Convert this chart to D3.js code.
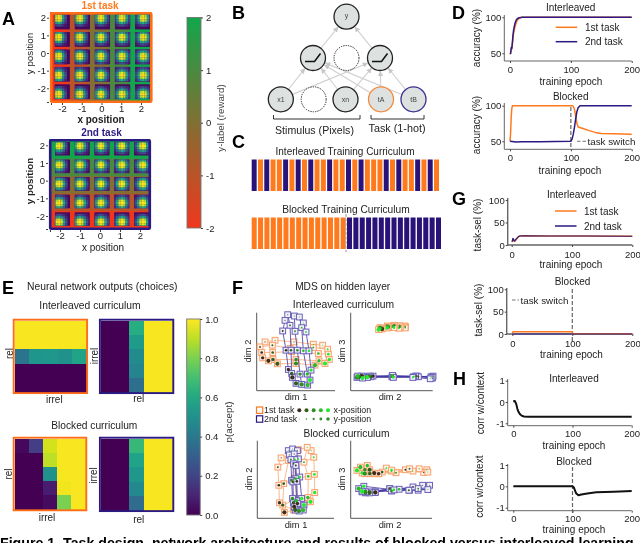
<!DOCTYPE html>
<html><head><meta charset="utf-8">
<style>
html,body{margin:0;padding:0;background:#fff;overflow:hidden}
svg{display:block;filter:blur(0.35px)}
text{font-family:"Liberation Sans",Arial,sans-serif;fill:#222}
</style>
<script src="https://cdn.jsdelivr.net/npm/d3@7"></script>
</head><body><svg id="c" width="640" height="543"></svg>
<script>
/* ---------- data ---------- */
const ORANGE="#ff7a1f", FRAME_OR="#ff6d17", PURPLE="#2a1a82";
const gridPos=[-2,-1,0,1,2];
const blobKernel=[
[.06,.12,.20,.26,.20,.12,.06],
[.12,.30,.52,.62,.52,.30,.12],
[.20,.52,.86,.97,.86,.52,.20],
[.26,.62,.97,1.0,.97,.62,.26],
[.20,.52,.86,.97,.86,.52,.20],
[.12,.30,.52,.62,.52,.30,.12],
[.06,.12,.20,.26,.20,.12,.06]];
const rewardTicks=[-2,-1,0,1,2];

const netNodes=[
 {id:"y",x:0,y:3,label:"y",kind:"out"},
 {id:"h1",x:-1,y:2,kind:"relu"},{id:"h2",x:0,y:2,kind:"dot"},{id:"h3",x:1,y:2,kind:"relu"},
 {id:"x1",x:-1.96,y:1,label:"x1",kind:"in"},{id:"xd",x:-0.98,y:1,kind:"dot"},{id:"xn",x:-0.03,y:1,label:"xn",kind:"in"},
 {id:"tA",x:1.03,y:1,label:"tA",kind:"tA"},{id:"tB",x:2,y:1,label:"tB",kind:"tB"}];
const netEdges=[["h1","y"],["h3","y"],["x1","h1"],["x1","h3"],["xn","h1"],["xn","h3"],["tA","h1"],["tA","h3"],["tB","h1"],["tB","h3"]];

const interleavedCurriculum=[2,1,2,1,1,2,1,2,1,2,1,1,2,1,1,2,1,2,1,1,1,2,1,2,1,1,2,1,2,1];
const blockedCurriculum=[1,1,1,1,1,1,1,1,1,1,1,1,1,1,1,2,2,2,2,2,2,2,2,2,2,2,2,2,2,2];

const epIntAcc=[0,1,2,3,4,5,6,8,10,12,15,20,30,200];
const intAcc1=[49,50,55,56,63,72,78,86,92,96,98.5,100,100,100];
const intAcc2=[49,50,58,57,66,76,83,91,96,98,99.5,100,100,100];
const epBlk1=[0,1,2,3,4,6,100,102,104,106,108,110,112,120,130,140,150,170,200];
const blkAcc1=[50,62,85,96,100,100,100,100,99,95,85,75,70,68,65,62.5,61,60.5,60];
const epBlk2=[0,10,20,50,100,102,104,106,108,110,112,115,120,200];
const blkAcc2=[50,49,49.5,49.5,50,53,60,70,82,92,97,100,100,100];
const epSel=[0,1,2,3,4,5,7,10,13,20,60,120,200];
const intSel1=[8,8,9,13,10,8,11,16,20,20.5,20,20,19.5];
const intSel2=[8,9,15,12,9,9,13,17,20,20.5,20,20,19.5];
const epBlkSel1=[0,1,100,101,200];
const blkSel1=[0,5,5,0.5,0.5];
const epBlkSel2=[0,200];
const blkSel2=[0,0];
const epCorrI=[0,2,3,5,7,9,11,14,18,25,200];
const corrI=[0.02,0.05,0.03,-0.1,-0.33,-0.47,-0.56,-0.64,-0.68,-0.69,-0.69];
const epCorrB=[0,100,102,104,106,110,115,125,140,170,200];
const corrB=[0,0,-0.04,-0.18,-0.32,-0.42,-0.38,-0.33,-0.28,-0.25,-0.22];

const choiceIntFirst=[[.99,.99,.99,.99,.99],[.99,.99,.99,.99,.99],[.38,.52,.53,.50,.58],[0,0,0,0,0],[0,0,0,0,0]];
const choiceIntSecond=[[0,0,.62,.99,.99],[0,0,.55,.99,.99],[0,0,.48,.99,.99],[0,0,.45,.99,.99],[0,0,.36,.99,.99]];
const choiceBlkFirst=[[.02,.18,.93,.99,.99],[0,0,.90,.99,.99],[0,0,.50,.99,.99],[0,0,.08,.98,.99],[0,0,.03,.80,.99]];
const choiceBlkSecond=[[0,0,.67,.99,.99],[0,0,.58,.99,.99],[0,0,.53,.99,.99],[0,0,.47,.99,.99],[0,0,.35,.99,.99]];
const acceptTicks=[0,.2,.4,.6,.8,1];

/* MDS coordinates: five rows (y-position) of five points (x-position), arbitrary units */
const mdsI12First=[[25,147],[55,152],[112,147],[170,140],[198,137],[10,132],[47,137],[100,127],[170,130],[213,125],[15,115],[48,115],[105,118],[185,112],[215,110],[18,99],[49,94],[118,94],[187,90],[218,94],[35,90],[62,81],[118,82],[175,77],[205,82]];
const mdsI12Second=[[85,212],[93,229],[113,225],[128,222],[140,204],[78,180],[100,197],[115,179],[135,190],[148,177],[88,122],[103,122],[122,122],[140,120],[157,120],[95,64],[105,52],[130,50],[152,50],[163,62],[107,40],[118,22],[135,19],[153,17],[160,32]];
const mdsI23First=[[156,190],[157,193],[155,195],[154,192],[156,189],[139,191],[141,194],[140,196],[142,192],[138,188],[123,193],[122,195],[125,197],[121,193],[124,190],[106,190],[108,193],[105,195],[107,192],[104,189],[90,186],[86,188],[84,190],[82,186],[80,184]];
const mdsI23Second=[[234,38],[236,44],[230,42],[233,40],[228,36],[190,44],[194,42],[186,44],[180,42],[178,40],[120,44],[122,42],[118,42],[120,46],[122,40],[64,44],[58,42],[52,44],[44,42],[48,40],[32,44],[24,42],[18,40],[20,44],[34,38]];
const mdsB12First=[[165,205],[153,215],[126,208],[101,192],[73,183],[173,185],[143,170],[111,208],[96,175],[63,155],[175,133],[156,127],[113,120],[81,105],[66,100],[176,78],[155,63],[123,60],[78,40],[68,47],[163,50],[143,45],[128,28],[111,25],[83,18]];
const mdsB12Second=[[95,205],[108,210],[123,205],[98,192],[113,195],[126,180],[115,178],[103,178],[111,165],[118,160],[130,125],[118,120],[105,115],[109,110],[121,112],[136,60],[120,53],[108,60],[111,47],[123,45],[143,40],[141,25],[128,22],[116,25],[113,35]];
const mdsB23First=[[211,139],[198,150],[220,147],[223,140],[180,143],[158,147],[170,150],[131,138],[118,143],[103,152],[81,135],[91,140],[68,135],[55,137],[118,146],[81,135],[55,135],[41,147],[48,160],[33,137],[68,137],[55,147],[41,135],[28,155],[18,145]];
const mdsB23Second=[[208,100],[195,85],[228,100],[223,87],[170,85],[180,95],[168,85],[195,90],[113,90],[118,83],[71,80],[113,90],[118,83],[140,88],[125,86],[43,77],[55,80],[71,80],[33,80],[38,97],[71,78],[55,77],[43,80],[23,90],[33,82]];
const legendSteps=[0,1,2,3,4];

/* ---------- helpers ---------- */
const svg=d3.select("#c");
function T(x,y,s,o={}){
  const t=svg.append("text").attr("x",x).attr("y",y).text(s)
   .attr("font-size",o.size||10).attr("text-anchor",o.anchor||"middle")
   .attr("dominant-baseline","central");
  if(o.weight)t.attr("font-weight",o.weight);
  if(o.fill)t.style("fill",o.fill);
  if(o.rot)t.attr("transform",`rotate(${o.rot} ${x} ${y})`);
  return t;
}
[["A",2,19],["B",232,13],["C",232,142],["D",452,13],["G",452,199],["E",2,288],["F",232,288],["H",453,379]]
 .forEach(d=>T(d[1],d[2],d[0],{size:18,weight:"bold",anchor:"start",fill:"#000"}));

/* ---------- A ---------- */
const rewardColor=d3.scaleLinear().domain([-2,2]).range(["#f0371c","#12a64c"]).interpolate(d3.interpolateRgb);
function panelA(o,id){
  const g=svg.append("g");
  svg.append("clipPath").attr("id",id).append("rect").attr("x",o.fx).attr("y",o.fy).attr("width",o.fw).attr("height",o.fh);
  const ci=g.append("g").attr("clip-path",`url(#${id})`);
  const bx=d3.scaleLinear().domain([-2,2]).range(o.blockX), by=d3.scaleLinear().domain([2,-2]).range(o.blockY);
  const px=d3.scaleLinear().domain([-2,2]).range(o.blobX), py=d3.scaleLinear().domain([2,-2]).range(o.blobY);
  const cells=d3.cross(gridPos,gridPos).map(([x,y])=>({x,y}));
  ci.selectAll(".bg").data(cells).join("rect")
    .attr("x",d=>bx(d.x)-6).attr("y",d=>by(d.y)-5).attr("width",22).attr("height",o.blockH+8)
    .attr("fill",d=>rewardColor(o.task===1?d.x:d.y));
  ci.selectAll(".bk").data(cells).join("rect")
    .attr("x",d=>bx(d.x)).attr("y",d=>by(d.y)).attr("width",o.blockW).attr("height",o.blockH)
    .attr("fill",d3.interpolateViridis(0.02));
  const ps=2.35, blobs=[];
  cells.forEach(c=>blobKernel.forEach((row,r)=>row.forEach((v,k)=>{
    const x0=px(c.x)+(k-3.5)*ps,y0=py(c.y)+(r-3.5)*ps;
    const xa=Math.max(x0,bx(c.x)),xb=Math.min(x0+ps,bx(c.x)+o.blockW);
    const ya=Math.max(y0,by(c.y)),yb=Math.min(y0+ps,by(c.y)+o.blockH);
    if(xb>xa&&yb>ya)blobs.push({x:xa,y:ya,w:xb-xa,h:yb-ya,v});
  })));
  ci.selectAll(".px").data(blobs).join("rect").attr("x",d=>d.x).attr("y",d=>d.y)
    .attr("width",d=>d.w+.1).attr("height",d=>d.h+.1).attr("fill",d=>d3.interpolateViridis(d.v));
  g.append("rect").attr("x",o.fx+1.2).attr("y",o.fy+1.2).attr("width",o.fw-2.4).attr("height",o.fh-2.4)
   .attr("fill","none").attr("stroke",o.color).attr("stroke-width",2.6).attr("rx",1);
  const ay=d3.scaleLinear().domain([-2,2]).range(o.tickY), ax=d3.scaleLinear().domain([-2,2]).range(o.tickX);
  const lab=d=>gridPos.includes(d)?String(d):"";
  const yA=svg.append("g").attr("transform",`translate(${o.fx-1},0)`).call(d3.axisLeft(ay).tickValues(gridPos.concat([ay.invert(o.fy+o.fh-1)])).tickFormat(lab).tickSize(2).tickPadding(1));
  const xA=svg.append("g").attr("transform",`translate(0,${o.fy+o.fh})`).call(d3.axisBottom(ax).tickValues(gridPos.concat([ax.invert(o.fx+1)])).tickFormat(lab).tickSize(2).tickPadding(0.5));
  [yA,xA].forEach(a=>{a.select(".domain").remove();a.selectAll("text").attr("font-size",9.5);a.selectAll("line").attr("stroke","#444");a.attr("font-family",null)});
}
panelA({task:1,color:FRAME_OR,fx:50,fy:12,fw:102.5,fh:91,blockX:[54.7,135],blockY:[14.7,84.3],blockW:15.2,blockH:14.7,blobX:[58.7,143.3],blobY:[18.3,94.3],tickX:[62,141],tickY:[88.3,17.7]},"ca1");
panelA({task:2,color:PURPLE,fx:49,fy:139,fw:102,fh:91,blockX:[55,134],blockY:[142,212.3],blockW:15,blockH:13.5,blobX:[59.3,142.7],blobY:[146,222],tickX:[60,140],tickY:[216,145.3]},"ca2");
T(100,5,"1st task",{size:10,weight:"bold",fill:ORANGE});
T(101.5,132,"2nd task",{size:10,weight:"bold",fill:PURPLE});
T(101,119.5,"x position",{size:10,weight:"bold"});
T(103,247.5,"x position",{size:10});
T(29,53.5,"y position",{size:9.8,rot:-90});
T(29,181,"y position",{size:9.8,rot:-90,weight:"bold"});

function vbar(id,ds,range,domain,colorFn,x,w,ticks,fmt){
  const y=d3.scaleLinear().domain(domain).range(range);
  const gr=svg.append("defs").append("linearGradient").attr("id",id).attr("x1",0).attr("x2",0).attr("y1",1).attr("y2",0);
  ds.forEach(v=>gr.append("stop").attr("offset",(v-domain[0])/(domain[1]-domain[0])).attr("stop-color",colorFn(v)));
  svg.append("rect").attr("x",x).attr("width",w).attr("y",range[1]).attr("height",range[0]-range[1])
    .attr("fill",`url(#${id})`).attr("stroke","#777").attr("stroke-width",.9);
  const a=svg.append("g").attr("transform",`translate(${x+w},0)`).call(d3.axisRight(y).tickValues(ticks).tickFormat(fmt).tickSize(2).tickPadding(3));
  a.attr("font-family",null);a.select(".domain").remove();a.selectAll("text").attr("font-size",9.5);a.selectAll("line").attr("stroke","#444");
}
vbar("gr",rewardTicks,[228,17.5],[-2,2],rewardColor,187,14,rewardTicks,String);
T(220,118,"y-label (reward)",{size:9.7,rot:-90,fill:"#444"});

/* ---------- B ---------- */
const nx=d3.scaleLinear().domain([-1,1]).range([313,380]);
const ny=d3.scaleLinear().domain([1,3]).range([99.3,16.7]);
const nr=12.5, nodeById=new Map(netNodes.map(n=>[n.id,n]));
svg.append("defs").append("marker").attr("id","ah").attr("viewBox","0 0 8 8").attr("refX",7).attr("refY",4)
  .attr("markerWidth",5.5).attr("markerHeight",5.5).attr("markerUnits","userSpaceOnUse").attr("orient","auto")
  .append("path").attr("d","M0,0L8,4L0,8Z").attr("fill","#c8c8c8");
svg.append("g").selectAll("line").data(netEdges).join("line").each(function(e){
  const a=nodeById.get(e[0]),b=nodeById.get(e[1]);
  const ax=nx(a.x),ay=ny(a.y),bx=nx(b.x),by=ny(b.y),L=Math.hypot(bx-ax,by-ay);
  d3.select(this).attr("x1",ax+(bx-ax)/L*(nr-1)).attr("y1",ay+(by-ay)/L*(nr-1))
    .attr("x2",bx-(bx-ax)/L*(nr+1)).attr("y2",by-(by-ay)/L*(nr+1));
}).attr("stroke","#d0d0d0").attr("stroke-width",1.1).attr("marker-end","url(#ah)");
const strokeOf={out:"#222",relu:"#222",dot:"#222",in:"#222",tA:"#f58a3c",tB:"#3a2f8f"};
svg.append("g").selectAll("circle").data(netNodes).join("circle")
 .attr("cx",d=>nx(d.x)).attr("cy",d=>ny(d.y)).attr("r",nr)
 .attr("fill",d=>d.kind==="dot"?"#fff":"#dde2e0").attr("stroke",d=>strokeOf[d.kind])
 .attr("stroke-width",d=>d.kind==="dot"?1:1.3).attr("stroke-dasharray",d=>d.kind==="dot"?"1.3,1.1":null);
netNodes.filter(d=>d.label).forEach(d=>T(nx(d.x),ny(d.y)+(d.kind==="out"?-1:0),d.label,{size:7,fill:"#444"}));
const relu=d3.line();
netNodes.filter(d=>d.kind==="relu").forEach(d=>{
  const cx=nx(d.x),cy=ny(d.y);
  svg.append("path").attr("d",relu([[cx-8,cy+3.5],[cx+1.5,cy+3.5],[cx+7.5,cy-4.5]])).attr("fill","none").attr("stroke","#111").attr("stroke-width",1.5);
});
function bracket(x0,x1){svg.append("path").attr("d",`M${x0},115V119H${x1}V115`).attr("fill","none").attr("stroke","#333").attr("stroke-width",1)}
bracket(273.5,360);bracket(371,424);
T(314.5,130,"Stimulus (Pixels)",{size:10.6});
T(397,127.5,"Task (1-hot)",{size:10.8});

/* ---------- C ---------- */
T(345,151,"Interleaved Training Curriculum",{size:10});
T(346,209,"Blocked Training Curriculum",{size:10.2});
const taskCol={1:"#ff7a1c",2:"#2a1378"};
function curriculum(seq,y0,x0,x1,h){
  const x=d3.scaleBand().domain(d3.range(seq.length)).range([x0,x1]).paddingInner(.21);
  svg.append("g").selectAll("rect").data(seq).join("rect").attr("x",(d,i)=>x(i)).attr("y",y0).attr("width",x.bandwidth()).attr("height",h)
   .attr("fill",d=>taskCol[d]);
}
curriculum(interleavedCurriculum,159.5,251.7,439,31.5);
curriculum(blockedCurriculum,217.5,251.7,441,31.5);
svg.append("line").attr("x1",346).attr("x2",346).attr("y1",214).attr("y2",252).attr("stroke","#aaa").attr("stroke-width",1.2).attr("stroke-dasharray","3,1.5");

/* ---------- D, G, H ---------- */
const curve=d3.line().curve(d3.curveLinear);
function linePanel(o){
  const x=d3.scaleLinear().domain([0,200]).range(o.xr), y=d3.scaleLinear().domain(o.yd).range(o.yr);
  svg.append("path").attr("d",`M${o.sx},${o.top}V${o.base}H${o.xr[1]}`).attr("fill","none").attr("stroke","#666").attr("stroke-width",o.spine||1);
  const ya=svg.append("g").attr("transform",`translate(${o.sx},0)`).call(d3.axisLeft(y).tickValues(o.ticks).tickFormat(String).tickSize(2).tickPadding(1));
  const xa=svg.append("g").attr("transform",`translate(0,${o.base})`).call(d3.axisBottom(x).tickValues([0,100,200]).tickSize(2).tickPadding(o.pad||3));
  [ya,xa].forEach(a=>{a.attr("font-family",null);a.select(".domain").remove();a.selectAll("text").attr("font-size",9.5);a.selectAll("line").attr("stroke","#444")});
  if(o.sw) svg.append("line").attr("x1",x(100)).attr("x2",x(100)).attr("y1",o.sw[0]).attr("y2",o.sw[1]).attr("stroke","#666").attr("stroke-width",1.2).attr("stroke-dasharray","4,2");
  o.series.forEach(s=>svg.append("path").attr("d",curve(s.x.map((e,i)=>[x(e),y(s.y[i])]))).attr("fill","none").attr("stroke",s.c).attr("stroke-width",s.w||1.5).attr("stroke-linejoin","round"));
}
function legend(xl,xt,y1,y2){
  [[y1,ORANGE,"1st task"],[y2,PURPLE,"2nd task"]].forEach(d=>{
    svg.append("line").attr("x1",xl).attr("x2",xl+21.5).attr("y1",d[0]).attr("y2",d[0]).attr("stroke",d[1]).attr("stroke-width",1.5);
    T(xt,d[0],d[2],{size:10,anchor:"start"});
  });
}
function swText(x0,x1,xt,y){
  svg.append("line").attr("x1",x0).attr("x2",x1).attr("y1",y).attr("y2",y).attr("stroke","#777").attr("stroke-dasharray","3.5,2");
  T(xt,y,"task switch",{size:9.8,anchor:"start"});
}
linePanel({xr:[510,631.7],sx:504.3,top:15,base:61,yd:[50,100],yr:[53.3,17.3],ticks:[50,100],series:[{x:epIntAcc,y:intAcc1,c:ORANGE},{x:epIntAcc,y:intAcc2,c:PURPLE}]});
T(570.7,7.7,"Interleaved");T(571,81.7,"training epoch");T(476.7,38,"accuracy (%)",{rot:-90});
legend(555.7,585,27.3,41.7);
linePanel({xr:[510,631.7],sx:504.3,top:103,base:149.3,yd:[50,100],yr:[141.3,105.7],ticks:[50,100],sw:[107,149],series:[{x:epBlk1,y:blkAcc1,c:ORANGE},{x:epBlk2,y:blkAcc2,c:PURPLE}]});
T(570.7,96,"Blocked");T(570,170,"training epoch");T(476.7,125,"accuracy (%)",{rot:-90});
swText(577,586,587.5,141.3);
linePanel({xr:[511.7,632.3],sx:507.7,top:198,base:245,spine:1.4,yd:[0,100],yr:[245,200],ticks:[0,50,100],pad:4,series:[{x:epSel,y:intSel1,c:ORANGE},{x:epSel,y:intSel2,c:PURPLE,w:1.2}]});
T(571.7,194,"Interleaved");T(571,264.5,"training epoch");T(477.7,225,"task-sel (%)",{rot:-90});
legend(555,584,211,226);
linePanel({xr:[512.3,632.3],sx:506.7,top:288,base:334,spine:1.4,yd:[0,100],yr:[334,289.3],ticks:[0,50,100],pad:4,sw:[289,342],series:[{x:epBlkSel1,y:blkSel1,c:ORANGE},{x:epBlkSel2,y:blkSel2,c:PURPLE,w:1.2}]});
T(572.5,281,"Blocked");T(571.5,354,"training epoch");T(478,310,"task-sel (%)",{rot:-90});
swText(512,519,520.5,300);
const blackC="#111";
linePanel({xr:[513.3,631.7],sx:507.7,top:379,base:425.7,yd:[-1,1],yr:[423.3,380.7],ticks:[-1,0,1],series:[{x:epCorrI,y:corrI,c:blackC,w:2}]});
T(574,378,"Interleaved");T(574,445,"training epoch");T(480,403,"corr w/context",{rot:-90});
linePanel({xr:[513.3,631.7],sx:507.7,top:464,base:510.7,yd:[-1,1],yr:[507.7,465],ticks:[-1,0,1],sw:[467,514],series:[{x:epCorrB,y:corrB,c:blackC,w:2}]});
T(574,461,"Blocked");T(574,529,"training epoch");T(480,486.7,"corr w/context",{rot:-90});

/* ---------- E ---------- */
function heat(m,x0,y0,size,color){
  const x=d3.scaleBand().domain(d3.range(5)).range([x0,x0+size]);
  const y=d3.scaleBand().domain(d3.range(5)).range([y0,y0+size]);
  const g=svg.append("g");
  m.forEach((row,r)=>g.selectAll(null).data(row).join("rect").attr("x",(d,c)=>x(c)).attr("y",y(r))
    .attr("width",x.bandwidth()+.6).attr("height",y.bandwidth()+.6).attr("fill",d=>d3.interpolateViridis(d)).attr("shape-rendering","crispEdges"));
  g.append("rect").attr("x",x0-.8).attr("y",y0-.8).attr("width",size+1.6).attr("height",size+1.6).attr("fill","none").attr("stroke",color).attr("stroke-width",1.9);
}
heat(choiceIntFirst,14.5,320.5,71.8,FRAME_OR);
heat(choiceIntSecond,100.7,320.5,71.8,PURPLE);
heat(choiceBlkFirst,14.5,438.5,71,FRAME_OR);
heat(choiceBlkSecond,100.7,438.5,71.8,PURPLE);
T(102.3,286.7,"Neural network outputs (choices)",{size:10.3});
T(90,305.7,"Interleaved curriculum",{size:10.3});
T(94.3,425.5,"Blocked curriculum",{size:10.2});
T(9,353.5,"rel",{rot:-90});T(54.3,399.5,"irrel");
T(94.7,356,"irrel",{rot:-90});T(138.7,398.5,"rel");
T(8.5,474,"rel",{rot:-90});T(47,517.5,"irrel");
T(93.7,475.5,"irrel",{rot:-90});T(138.7,519,"rel");
vbar("gv",d3.range(0,1.001,.1),[515,319],[0,1],d=>d3.interpolateViridis(d),186.7,13.5,acceptTicks,d3.format(".1f"));
T(228,422,"p(accept)",{size:9.8,rot:-90,fill:"#333"});

/* ---------- F ---------- */
const xposColor=d3.scaleLinear().domain([0,4]).range(["#3d2d1c","#23ea2e"]);
const yposSize=d3.scaleLinear().domain([0,4]).range([.55,2.1]);
function mds(o){
  const x=d3.scaleLinear().domain([0,235]).range(o.xr),y=d3.scaleLinear().domain([0,235]).range(o.yr);
  svg.append("path").attr("d",`M${o.xr[0]},${o.yr[1]}V${o.yr[0]}H${o.xr[1]}`).attr("fill","none").attr("stroke","#555").attr("stroke-width",1);
  o.sets.forEach(s=>{
    const g=svg.append("g");
    const P=s.d.map(d=>[x(d[0]),y(d[1])]);
    const paths=[];
    for(let r=0;r<5;r++){paths.push(P.slice(r*5,r*5+5));paths.push(d3.range(5).map(c=>P[c*5+r]))}
    g.selectAll("path").data(paths).join("path").attr("d",d3.line()).attr("fill","none").attr("stroke",s.line).attr("stroke-width",.8);
    g.selectAll("rect").data(P).join("rect").attr("x",d=>d[0]-2.9).attr("y",d=>d[1]-2.9).attr("width",5.8).attr("height",5.8)
      .attr("fill",s.fill).attr("stroke",s.stroke).attr("stroke-width",1);
    g.selectAll("circle").data(P).join("circle").attr("cx",d=>d[0]).attr("cy",d=>d[1])
      .attr("r",(d,i)=>yposSize(Math.floor(i/5))).attr("fill",(d,i)=>xposColor(s.flip?4-i%5:i%5));
  });
}
const oSet=(d,flip)=>({d,line:"#f9a874",fill:"#fff3ea",stroke:"#f8a06a",flip});
const pSet=(d,flip)=>({d,line:"#4034a0",fill:"#f1f0fa",stroke:"#6a60b8",flip});
mds({xr:[256.7,335],yr:[390.7,312.7],sets:[oSet(mdsI12First),pSet(mdsI12Second)]});
mds({xr:[350.7,432.7],yr:[390.7,312.7],sets:[oSet(mdsI23First),pSet(mdsI23Second)]});
mds({xr:[257.3,334],yr:[518.3,440.7],sets:[oSet(mdsB12First,true),pSet(mdsB12Second,true)]});
mds({xr:[350.7,432],yr:[518.3,440.7],sets:[oSet(mdsB23First),pSet(mdsB23Second)]});
T(342.7,286.7,"MDS on hidden layer",{size:10.2});
T(343.5,304.7,"Interleaved curriculum",{size:10.3});
T(346.5,433.3,"Blocked curriculum",{size:10.2});
[[296,397.3],[390,397.3],[296,525.3],[390,525.3]].forEach((d,i)=>T(d[0],d[1],i%2?"dim 2":"dim 1",{size:9.3}));
[[248.3,351],[342.3,351],[249,479],[342.3,479]].forEach((d,i)=>T(d[0],d[1],i%2?"dim 3":"dim 2",{size:9.3,rot:-90}));
const lgx=d3.scaleLinear().domain([0,4]).range([299.3,328]);
[[410.2,ORANGE,"1st task"],[419,PURPLE,"2nd task"]].forEach((d,i)=>{
  svg.append("rect").attr("x",256.5).attr("y",d[0]-3.2).attr("width",6.2).attr("height",6.4).attr("fill","#fff").attr("stroke",d[1]).attr("stroke-width",1.2);
  T(264,d[0],d[2],{size:8.8,anchor:"start"});
  svg.append("g").selectAll("circle").data(legendSteps).join("circle").attr("cx",s=>lgx(s)).attr("cy",d[0])
    .attr("r",s=>i?yposSize(s)*.85:2).attr("fill",s=>i?"#2f8f2a":xposColor(s));
  T(333.5,d[0],i?"y-position":"x-position",{size:8.8,anchor:"start"});
});

/* ---------- caption ---------- */
T(0,538,"Figure 1. Task design, network architecture and results of blocked versus interleaved learning",{size:14.2,weight:"bold",anchor:"start",fill:"#000"}).attr("dominant-baseline","hanging");
</script></body></html>
